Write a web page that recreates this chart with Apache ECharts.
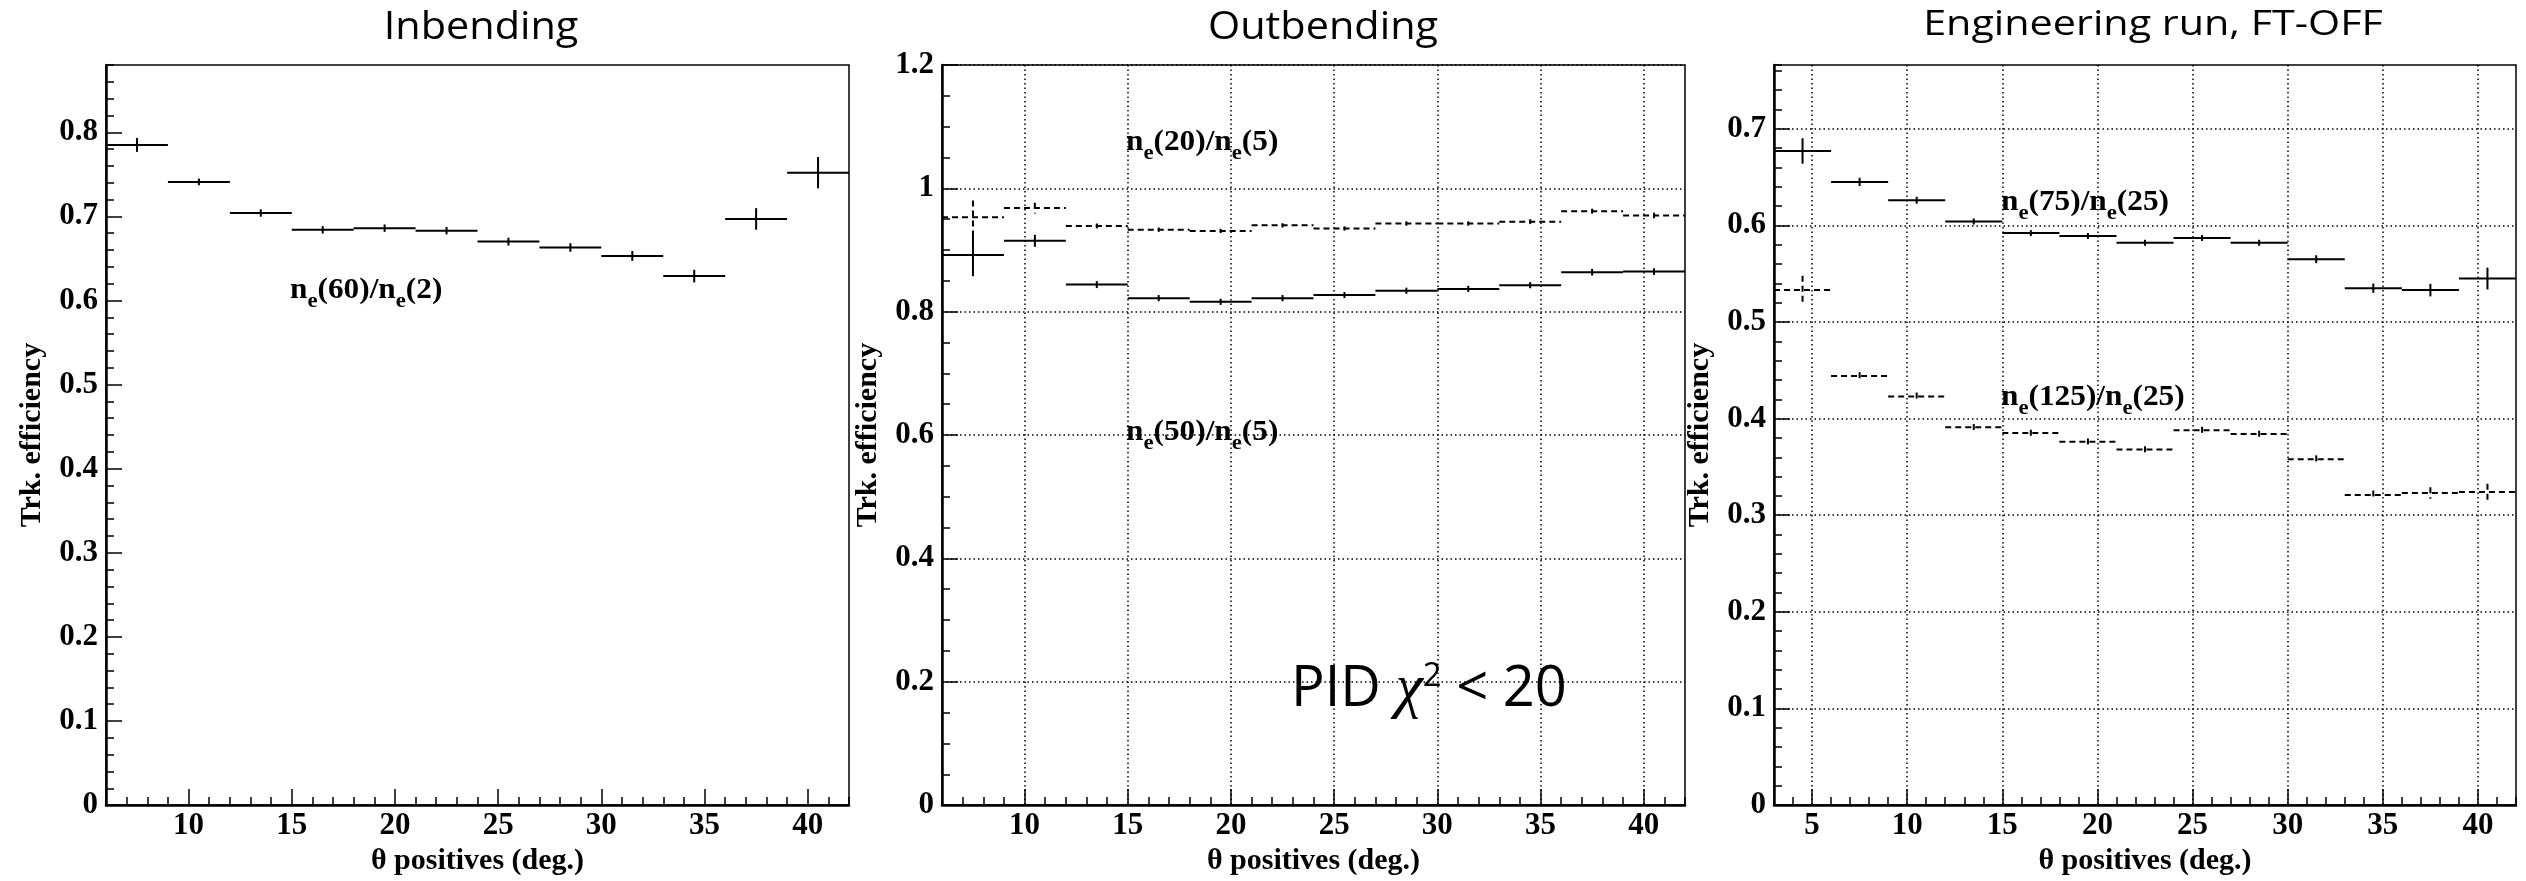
<!DOCTYPE html>
<html>
<head>
<meta charset="utf-8">
<script src="https://cdn.jsdelivr.net/npm/echarts@6/dist/echarts.min.js"></script>
<style>html,body{margin:0;padding:0;background:#fff}#c{width:2526px;height:881px}</style>
</head>
<body>
<div id="c"></div>
<script>
// ---------------- data ----------------
const binWidth = 3;

// Inbending: n_e(60)/n_e(2)
const inbCenters = [7.5, 10.5, 13.5, 16.5, 19.5, 22.5, 25.5, 28.5, 31.5, 34.5, 37.5, 40.5];
const inbValues  = [0.785, 0.741, 0.704, 0.684, 0.686, 0.683, 0.670, 0.663, 0.653, 0.629, 0.697, 0.752];
const inbErrors  = [0.0083, 0.004, 0.0044, 0.0044, 0.0044, 0.0044, 0.0047, 0.0051, 0.0059, 0.0075, 0.0128, 0.0186];

// Outbending
const outCenters     = [7.5, 10.5, 13.5, 16.5, 19.5, 22.5, 25.5, 28.5, 31.5, 34.5, 37.5, 40.5];
const out20Values    = [0.953, 0.968, 0.939, 0.933, 0.931, 0.940, 0.935, 0.943, 0.943, 0.946, 0.963, 0.956];
const out20Errors    = [0.0275, 0.0086, 0.004, 0.0035, 0.0035, 0.0035, 0.0035, 0.0035, 0.0035, 0.004, 0.004, 0.0045];
const out50Values    = [0.892, 0.915, 0.844, 0.822, 0.816, 0.822, 0.827, 0.834, 0.837, 0.843, 0.864, 0.865];
const out50Errors    = [0.0345, 0.0097, 0.0057, 0.005, 0.005, 0.005, 0.005, 0.005, 0.005, 0.005, 0.0054, 0.0054];

// Engineering run, FT-OFF
const engCenters     = [4.5, 7.5, 10.5, 13.5, 16.5, 19.5, 22.5, 25.5, 28.5, 31.5, 34.5, 37.5, 40.5];
const eng75Values    = [0.677, 0.645, 0.626, 0.604, 0.592, 0.589, 0.582, 0.587, 0.582, 0.565, 0.535, 0.533, 0.545];
const eng75Errors    = [0.0132, 0.0043, 0.0036, 0.0031, 0.0031, 0.0031, 0.0031, 0.0031, 0.0031, 0.0041, 0.0048, 0.0065, 0.0113];
const eng125Values   = [0.533, 0.444, 0.423, 0.391, 0.385, 0.376, 0.368, 0.388, 0.384, 0.358, 0.321, 0.323, 0.324];
const eng125Errors   = [0.015, 0.0041, 0.004, 0.0035, 0.0035, 0.0035, 0.0035, 0.0035, 0.0035, 0.004, 0.0046, 0.006, 0.0086];

// axis ticks
const xTicksA = [10, 15, 20, 25, 30, 35, 40];
const xTicksB = [5, 10, 15, 20, 25, 30, 35, 40];
const inbYTicks = [0, 0.1, 0.2, 0.3, 0.4, 0.5, 0.6, 0.7, 0.8];
const outYTicks = [0, 0.2, 0.4, 0.6, 0.8, 1, 1.2];
const engYTicks = [0, 0.1, 0.2, 0.3, 0.4, 0.5, 0.6, 0.7];

const titles = ['Inbending', 'Outbending', 'Engineering run, FT-OFF'];
const xName = 'θ positives (deg.)';
const yName = 'Trk. efficiency';

// ---------------- chart ----------------
const chart = echarts.init(document.getElementById('c'), null, {renderer: 'canvas', width: 2526, height: 881});
const serif = '"Liberation Serif", "Times New Roman", serif';
const sans = '"Open Sans", sans-serif';
const fmt = v => String(Math.round(v * 100) / 100);

const panels = [
  {grid: {left: 106, top: 65, width: 743, height: 742}, xMin: 6, xMax: 42, xSplit: 7, xTicks: xTicksA,
   yMax: 0.88, yMajor: 0.1, yMinor: 0.02, yTicks: inbYTicks, gridLines: false},
  {grid: {left: 942, top: 65, width: 743, height: 742}, xMin: 6, xMax: 42, xSplit: 7, xTicks: xTicksA,
   yMax: 1.2, yMajor: 0.2, yMinor: 0.05, yTicks: outYTicks, gridLines: true},
  {grid: {left: 1774, top: 65, width: 742, height: 742}, xMin: 3, xMax: 42, xSplit: 8, xTicks: xTicksB,
   yMax: 0.766, yMajor: 0.1, yMinor: 0.02, yTicks: engYTicks, gridLines: true}
];

const labelStyle = {fontFamily: serif, fontWeight: 'bold', fontSize: 31, color: '#000'};
const tickLine = {color: '#000', width: 1.5};
const splitStyle = {color: '#000', width: 1.5, type: [1.5, 3]};

const grid = [], xAxis = [], yAxis = [];
panels.forEach((p, i) => {
  grid.push(Object.assign({show: true, borderColor: '#000', borderWidth: 1.5, backgroundColor: 'transparent'}, p.grid));
  // minor x axis (carries data)
  xAxis.push({gridIndex: i, type: 'value', min: p.xMin, max: p.xMax, interval: 1, position: 'bottom',
    axisLine: {show: true, onZero: false, lineStyle: {color: '#000', width: 2.5}},
    axisTick: {show: true, inside: true, length: 8, lineStyle: tickLine},
    axisLabel: {show: false}, splitLine: {show: false}});
  // major x axis
  xAxis.push({gridIndex: i, type: 'value', min: p.xMin, max: p.xMax, splitNumber: p.xSplit, position: 'bottom',
    axisLine: {show: false, onZero: false},
    axisTick: {show: true, inside: true, length: 16, customValues: p.xTicks, lineStyle: tickLine},
    axisLabel: Object.assign({show: true, customValues: p.xTicks, margin: 5, formatter: fmt}, labelStyle),
    splitLine: {show: p.gridLines, lineStyle: splitStyle},
    name: xName, nameLocation: 'middle', nameGap: 30,
    nameTextStyle: {fontFamily: serif, fontWeight: 'bold', fontSize: 30, color: '#000'}});
  // minor y axis (carries data)
  yAxis.push({gridIndex: i, type: 'value', min: 0, max: p.yMax, interval: p.yMinor, position: 'left',
    axisLine: {show: true, onZero: false, lineStyle: {color: '#000', width: 2.5}},
    axisTick: {show: true, inside: true, length: 8, lineStyle: tickLine},
    axisLabel: {show: false}, splitLine: {show: false}});
  // major y axis
  yAxis.push({gridIndex: i, type: 'value', min: 0, max: p.yMax, interval: p.yMajor, position: 'left',
    axisLine: {show: false, onZero: false},
    axisTick: {show: true, inside: true, length: 16, customValues: p.yTicks, lineStyle: tickLine},
    axisLabel: Object.assign({show: true, customValues: p.yTicks, margin: 8, formatter: fmt}, labelStyle),
    splitLine: {show: p.gridLines, lineStyle: splitStyle},
    name: yName, nameLocation: 'middle', nameGap: 59,
    nameTextStyle: {fontFamily: serif, fontWeight: 'bold', fontSize: 30, color: '#000'}});
});

function errSeries(panel, centers, values, errors, dashed) {
  return {
    type: 'custom', xAxisIndex: panel * 2, yAxisIndex: panel * 2, z: 10, clip: false,
    data: centers.map((c, k) => [c, values[k], errors[k]]),
    renderItem: function (params, api) {
      const c = api.value(0), v = api.value(1), e = api.value(2);
      const l = api.coord([c - binWidth / 2, v]);
      const r = api.coord([c + binWidth / 2, v]);
      const t = api.coord([c, v + e]);
      const b = api.coord([c, v - e]);
      const style = {stroke: '#000', lineWidth: 2, fill: null, lineDash: dashed ? [6, 4] : null};
      return {type: 'group', children: [
        {type: 'line', shape: {x1: l[0], y1: l[1], x2: r[0], y2: r[1]}, style: style},
        {type: 'line', shape: {x1: t[0], y1: t[1], x2: b[0], y2: b[1]}, style: style}
      ]};
    }
  };
}

const series = [
  errSeries(0, inbCenters, inbValues, inbErrors, false),
  errSeries(1, outCenters, out20Values, out20Errors, true),
  errSeries(1, outCenters, out50Values, out50Errors, false),
  errSeries(2, engCenters, eng75Values, eng75Errors, false),
  errSeries(2, engCenters, eng125Values, eng125Errors, true)
];

// main tokens pinned to the top of the line, subscripts to the bottom
const nRich = {
  n: {fontFamily: serif, fontWeight: 'bold', fontSize: 29, lineHeight: 36, verticalAlign: 'top', fill: '#000', color: '#000'},
  e: {fontFamily: serif, fontWeight: 'bold', fontSize: 21, verticalAlign: 'bottom', fill: '#000', color: '#000'}
};
function ratioLabel(num, den, x, y) {
  return {type: 'text', x: x, y: y, z: 20, scaleX: 1.08,
    style: {text: '{n|n}{e|e}{n|(' + num + ')/n}{e|e}{n|(' + den + ')}', rich: nRich,
      textAlign: 'left', align: 'left', textVerticalAlign: 'middle', verticalAlign: 'middle', fill: '#000'}};
}
function titleText(text, x, y, size, sx) {
  return {type: 'text', x: x, y: y, z: 20, scaleX: sx,
    style: {text: text, font: size + 'px ' + sans, fill: '#000',
      textAlign: 'center', align: 'center', textVerticalAlign: 'middle', verticalAlign: 'middle'}};
}

const graphic = [
  titleText(titles[0], 481, 28, 38, 1.09),
  titleText(titles[1], 1323, 28, 38, 1.09),
  titleText(titles[2], 2153, 25, 35, 1.18),
  ratioLabel('60', '2', 290, 294),
  ratioLabel('20', '5', 1126, 146),
  ratioLabel('50', '5', 1126, 436),
  ratioLabel('75', '25', 2001, 206),
  ratioLabel('125', '25', 2001, 401),
  {type: 'text', x: 1291, y: 690, z: 20,
   style: {text: '{a|PID }{c|χ}{s|2}{a| < 20}', textAlign: 'left', align: 'left',
     textVerticalAlign: 'middle', verticalAlign: 'middle',
     rich: {
       a: {fontFamily: sans, fontSize: 56, lineHeight: 60, fill: '#000', color: '#000'},
       c: {fontFamily: '"Liberation Serif", serif', fontStyle: 'italic', fontSize: 62, lineHeight: 60, fill: '#000', color: '#000'},
       s: {fontFamily: sans, fontSize: 33, lineHeight: 40, verticalAlign: 'top', fill: '#000', color: '#000'}
     }}}
];

chart.setOption({
  animation: false,
  backgroundColor: '#fff',
  grid: grid, xAxis: xAxis, yAxis: yAxis, series: series, graphic: graphic
});
</script>
</body>
</html>
